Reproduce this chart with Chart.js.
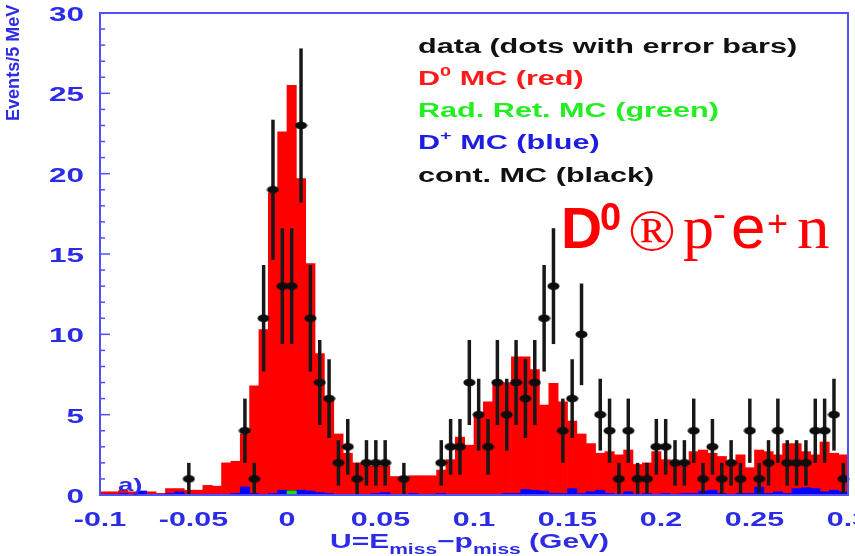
<!DOCTYPE html>
<html>
<head>
<meta charset="utf-8">
<script src="https://cdn.jsdelivr.net/npm/chart.js@4.4.0/dist/chart.umd.min.js"></script>
<style>
    html, body { margin: 0; padding: 0; background: #fff; }
    #wrap { width: 855px; height: 556px; }
</style>
</head>
<body>
<div id="wrap"><canvas id="cvHist" width="855" height="556"></canvas></div>
<script>
// 80 bins of 5 MeV from -0.1 to 0.3 GeV
var binLow = -0.1;
var binWidth = 0.005;
var nBins = 80;

// data counts per bin (null = empty bin, not drawn)
var dataCounts = [
    null, null, null, null, null, null, null, null, null, 1,
    null, null, null, null, null, 4, 1, 11, 19, 13,
    13, 23, 11, 7, 6, 2, 3, 1, 2, 2,
    2, null, 1, null, null, null, 2, 3, 3, 7,
    5, 3, 7, 5, 7, 6, 7, 11, 13, 4,
    6, 10, null, 5, 4, 1, 4, 1, 1, 3,
    3, 2, 2, 4, 1, 3, 1, 2, 1, 4,
    1, 2, 4, 2, 2, 2, 4, 4, 5, 1
];

// D0 MC (red)
var d0MC = [
    0.2, 0.2, 0.3, 0.2, 0.1, 0.2, 0.1, 0.4, 0.4, 0.3,
    0.3, 0.6, 0.55, 2.0, 2.1, 3.8, 6.8, 10.3, 18.8, 22.6,
    25.5, 19.7, 14.4, 8.8, 5.9, 3.8, 2.6, 2.0, 1.8, 1.8,
    1.8, 1.15, 1.15, 1.2, 1.2, 1.2, 1.55, 2.2, 3.6, 3.1,
    4.9, 5.8, 7.0, 7.0, 8.6, 8.6, 7.8, 5.6, 6.95, 5.8,
    4.6, 3.8, 3.2, 2.6, 2.7, 2.5, 2.8, 1.9, 2.0, 2.7,
    2.2, 1.9, 1.8, 2.7, 2.8, 2.6, 2.4, 2.1, 2.5, 1.7,
    2.8, 2.7, 2.5, 3.2, 3.2, 2.7, 2.5, 3.3, 2.6, 2.5
];

// D+ MC (blue)
var dPlusMC = [
    0.05, 0.05, 0.1, 0.05, 0.25, 0.05, 0.05, 0.1, 0.2, 0.05,
    0.05, 0.05, 0.05, 0.05, 0.1, 0.5, 0.1, 0.05, 0.1, 0.3,
    0.25, 0.3, 0.25, 0.15, 0.1, 0.05, 0.05, 0.05, 0.05, 0.1,
    0.15, 0.05, 0.05, 0.1, 0.05, 0.05, 0.1, 0.05, 0.05, 0.05,
    0.05, 0.05, 0.05, 0.1, 0.1, 0.35, 0.3, 0.25, 0.1, 0.1,
    0.4, 0.1, 0.2, 0.3, 0.1, 0.05, 0.2, 0.05, 0.1, 0.05,
    0.1, 0.05, 0.1, 0.1, 0.25, 0.3, 0.1, 0.05, 0.1, 0.1,
    0.5, 0.1, 0.2, 0.1, 0.4, 0.45, 0.4, 0.2, 0.3, 0.2
];

// Rad. Ret. MC (green)
var radRetMC = [];
for (var k = 0; k < nBins; k++) radRetMC.push(k === 20 ? 0.25 : 0);

var yTicks = [0, 5, 10, 15, 20, 25, 30];
var xTickValues = [-0.1, -0.05, 0, 0.05, 0.1, 0.15, 0.2, 0.25, 0.3];
var xTickLabels = ['-0.1', '-0.05', '0', '0.05', '0.1', '0.15', '0.2', '0.25', '0.3'];

var binCenters = [];
for (var i = 0; i < nBins; i++) binCenters.push((binLow + binWidth * (i + 0.5)).toFixed(4));

var axisBlue = '#2c2ce6';
var frameBlue = '#5050ff';

// elliptical marker for the data points
var dotImg = document.createElement('canvas');
dotImg.width = 13; dotImg.height = 9;
(function () {
    var c = dotImg.getContext('2d');
    c.fillStyle = '#0d0d0d';
    c.beginPath();
    c.ellipse(6.5, 4.5, 6, 3.8, 0, 0, Math.PI * 2);
    c.fill();
})();

function stretchText(ctx, txt, x, y, size, color, sx, align, weight, family) {
    ctx.save();
    ctx.font = (weight || 'bold') + ' ' + size + 'px ' + (family || '"Liberation Sans", Arial, sans-serif');
    ctx.fillStyle = color;
    ctx.textAlign = 'left';
    ctx.textBaseline = 'alphabetic';
    var w = ctx.measureText(txt).width * sx;
    var x0 = x;
    if (align === 'right') x0 = x - w;
    if (align === 'center') x0 = x - w / 2;
    ctx.translate(x0, y);
    ctx.scale(sx, 1);
    ctx.fillText(txt, 0, 0);
    ctx.restore();
    return w;
}

// pieces: [text, size, raise]
function richText(ctx, pieces, x, y, color, sx) {
    var cx = x;
    pieces.forEach(function (p) {
        cx += stretchText(ctx, p[0], cx, y - (p[2] || 0), p[1], color, sx);
    });
}

var errorBarPlugin = {
    id: 'errorBars',
    beforeDatasetDraw: function (chart, args) {
        if (args.index !== 0) return;
        var ctx = chart.ctx, xs = chart.scales.x, ys = chart.scales.y;
        ctx.save();
        ctx.strokeStyle = '#181818';
        ctx.lineWidth = 3.5;
        dataCounts.forEach(function (n, i) {
            if (!n) return;
            var e = Math.sqrt(n);
            var px = xs.getPixelForValue(i);
            ctx.beginPath();
            ctx.moveTo(px, ys.getPixelForValue(Math.max(n - e, 0)));
            ctx.lineTo(px, ys.getPixelForValue(Math.min(n + e, 30)));
            ctx.stroke();
        });
        ctx.restore();
    }
};

var framePlugin = {
    id: 'frame',
    afterDraw: function (chart) {
        var ctx = chart.ctx, a = chart.chartArea;
        var ys = chart.scales.y, xv = chart.scales.xv;
        ctx.save();
        // frame
        ctx.strokeStyle = frameBlue;
        ctx.lineWidth = 2;
        ctx.strokeRect(a.left, a.top, a.right - a.left, a.bottom - a.top);
        // y ticks (inside)
        ctx.lineWidth = 1.5;
        for (var v = 0; v <= 30; v++) {
            var py = ys.getPixelForValue(v);
            var len = (v % 5 === 0) ? 10 : 5;
            ctx.beginPath();
            ctx.moveTo(a.left, py);
            ctx.lineTo(a.left + len, py);
            ctx.stroke();
        }
        ctx.restore();

        // y tick labels
        yTicks.forEach(function (t) {
            stretchText(ctx, String(t), 84, ys.getPixelForValue(t) + 8, 21, axisBlue, 1.5, 'right');
        });
        // x tick labels
        xTickValues.forEach(function (t, i) {
            stretchText(ctx, xTickLabels[i], xv.getPixelForValue(t), 526, 21, axisBlue, 1.45, 'center');
        });

        // x title
        richText(ctx, [['U=E', 20], ['miss', 14, -6], ['\u2212p', 20], ['miss', 14, -6], [' (GeV)', 20]], 330, 548, axisBlue, 1.5);

        // y title
        ctx.save();
        ctx.translate(19, 121);
        ctx.rotate(-Math.PI / 2);
        stretchText(ctx, 'Events/5 MeV', 0, 0, 19, axisBlue, 0.95, 'left');
        ctx.restore();

        // panel label
        stretchText(ctx, 'a)', 118, 491, 19, axisBlue, 1.45, 'left');

        // legend text
        var lx = 418;
        richText(ctx, [['data (dots with error bars)', 20]], lx, 53, '#111', 1.53);
        richText(ctx, [['D', 20], ['0', 13, 9], [' MC (red)', 20]], lx, 85, '#ff1a1a', 1.53);
        richText(ctx, [['Rad. Ret. MC (green)', 20]], lx, 117, '#22ee22', 1.53);
        richText(ctx, [['D', 20], ['+', 13, 9], [' MC (blue)', 20]], lx, 149, '#1e1ee0', 1.53);
        richText(ctx, [['cont. MC (black)', 20]], lx, 182, '#111', 1.53);

        // decay label
        var red = '#ff0000';
        var serif = '"Liberation Serif", "Times New Roman", serif';
        stretchText(ctx, 'D', 561, 248, 57, red, 1, 'left');
        stretchText(ctx, '0', 600, 230, 38, red, 1, 'left');
        stretchText(ctx, '\u00AE', 628, 250, 60, red, 1.05, 'left', 'normal', serif);
        stretchText(ctx, 'p', 683, 248, 62, red, 1, 'left', 'normal', serif);
        stretchText(ctx, '-', 713, 226, 38, red, 1, 'left', 'normal', serif);
        stretchText(ctx, 'e', 731, 248, 62, red, 1, 'left', 'normal');
        stretchText(ctx, '+', 767, 236, 36, red, 1, 'left', 'normal');
        stretchText(ctx, 'n', 797, 248, 62, red, 1.05, 'left', 'normal', serif);
    }
};

var chart = new Chart(document.getElementById('cvHist'), {
    type: 'bar',
    data: {
        labels: binCenters,
        datasets: [
            {
                type: 'line', label: 'data', data: dataCounts, showLine: false,
                pointStyle: dotImg, pointRadius: 4, order: 0
            },
            { label: 'Rad. Ret. MC', data: radRetMC, backgroundColor: '#00ee00', order: 1 },
            { label: 'D+ MC', data: dPlusMC, backgroundColor: '#0000ff', order: 2 },
            { label: 'D0 MC', data: d0MC, backgroundColor: '#ff0000', order: 3 }
        ]
    },
    options: {
        responsive: false,
        animation: false,
        devicePixelRatio: 1,
        layout: { padding: { left: 100, right: 7, top: 13, bottom: 61 } },
        plugins: { legend: { display: false }, tooltip: { enabled: false } },
        datasets: { bar: { barPercentage: 1, categoryPercentage: 1, grouped: false, borderWidth: 0 } },
        scales: {
            x: { display: false, offset: true },
            xv: { type: 'linear', axis: 'x', display: false, offset: false, min: -0.1, max: 0.3 },
            y: { display: false, min: 0, max: 30 }
        }
    },
    plugins: [errorBarPlugin, framePlugin]
});
</script>
</body>
</html>
